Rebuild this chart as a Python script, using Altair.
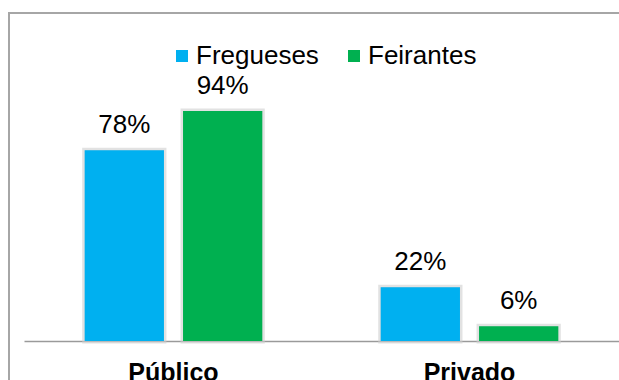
import altair as alt
import pandas as pd

categories = ["Público", "Privado"]
series = ["Fregueses", "Feirantes"]
fregueses = [78, 22]
feirantes = [94, 6]
colors = ["#00B0F0", "#00B050"]

rows = []
for i, c in enumerate(categories):
    rows.append({"cat": c, "serie": "Fregueses", "v": fregueses[i], "lab": f"{fregueses[i]}%"})
    rows.append({"cat": c, "serie": "Feirantes", "v": feirantes[i], "lab": f"{feirantes[i]}%"})
df = pd.DataFrame(rows)

FONT = "Liberation Sans"

x = alt.X("cat:N", sort=categories, title=None,
          scale=alt.Scale(paddingInner=0.4, paddingOuter=0.205),
          axis=alt.Axis(labelAngle=0, ticks=False, tickSize=0, labelPadding=39,
                        labelBaseline="alphabetic", labelFont=FONT, labelFontSize=25,
                        labelFontWeight="bold", labelColor="#000000",
                        domainColor="#9a9a9a", domainWidth=1.5, grid=False))
xo = alt.XOffset("serie:N", sort=series,
                 scale=alt.Scale(paddingInner=0.194, paddingOuter=0))
y = alt.Y("v:Q", title=None, axis=None,
          scale=alt.Scale(domain=[0, 139.36], nice=False, zero=True))

base = alt.Chart(df)

frame = base.mark_rect(fill=None, stroke="#a6a6a6", strokeWidth=2).encode(
    x=alt.value(-15), x2=alt.value(700), y=alt.value(13), y2=alt.value(600)
).transform_filter("datum.cat == 'Público' && datum.serie == 'Fregueses'")

shadow = base.mark_bar(stroke="#cfcfcf", strokeWidth=5, strokeOpacity=0.6, fill="#cfcfcf").encode(
    x=x, xOffset=xo, y=y
)

bars = base.mark_bar().encode(
    x=x, xOffset=xo, y=y,
    color=alt.Color("serie:N", sort=series, title=None,
                    scale=alt.Scale(domain=series, range=colors),
                    legend=alt.Legend(orient="none", legendX=145, legendY=43,
                                      direction="horizontal", symbolType="square",
                                      symbolSize=144, symbolStrokeWidth=0,
                                      labelFont=FONT, labelFontSize=26, labelColor="#000000",
                                      labelOffset=1, columnPadding=22))
)

labels = base.mark_text(font=FONT, fontSize=26, color="#000000", baseline="alphabetic", dy=-17).encode(
    x=x, xOffset=xo, y=y, text="lab:N"
)

chart = alt.layer(frame, shadow, bars, labels).properties(
    width=595, height=341,
    padding={"left": 24, "top": 0, "right": 0, "bottom": 39},
    autosize=alt.AutoSizeParams(type="none"),
    background="#ffffff",
).configure_view(stroke=None)

chart.save("out.html", embed_options={"renderer": "svg", "actions": False})
